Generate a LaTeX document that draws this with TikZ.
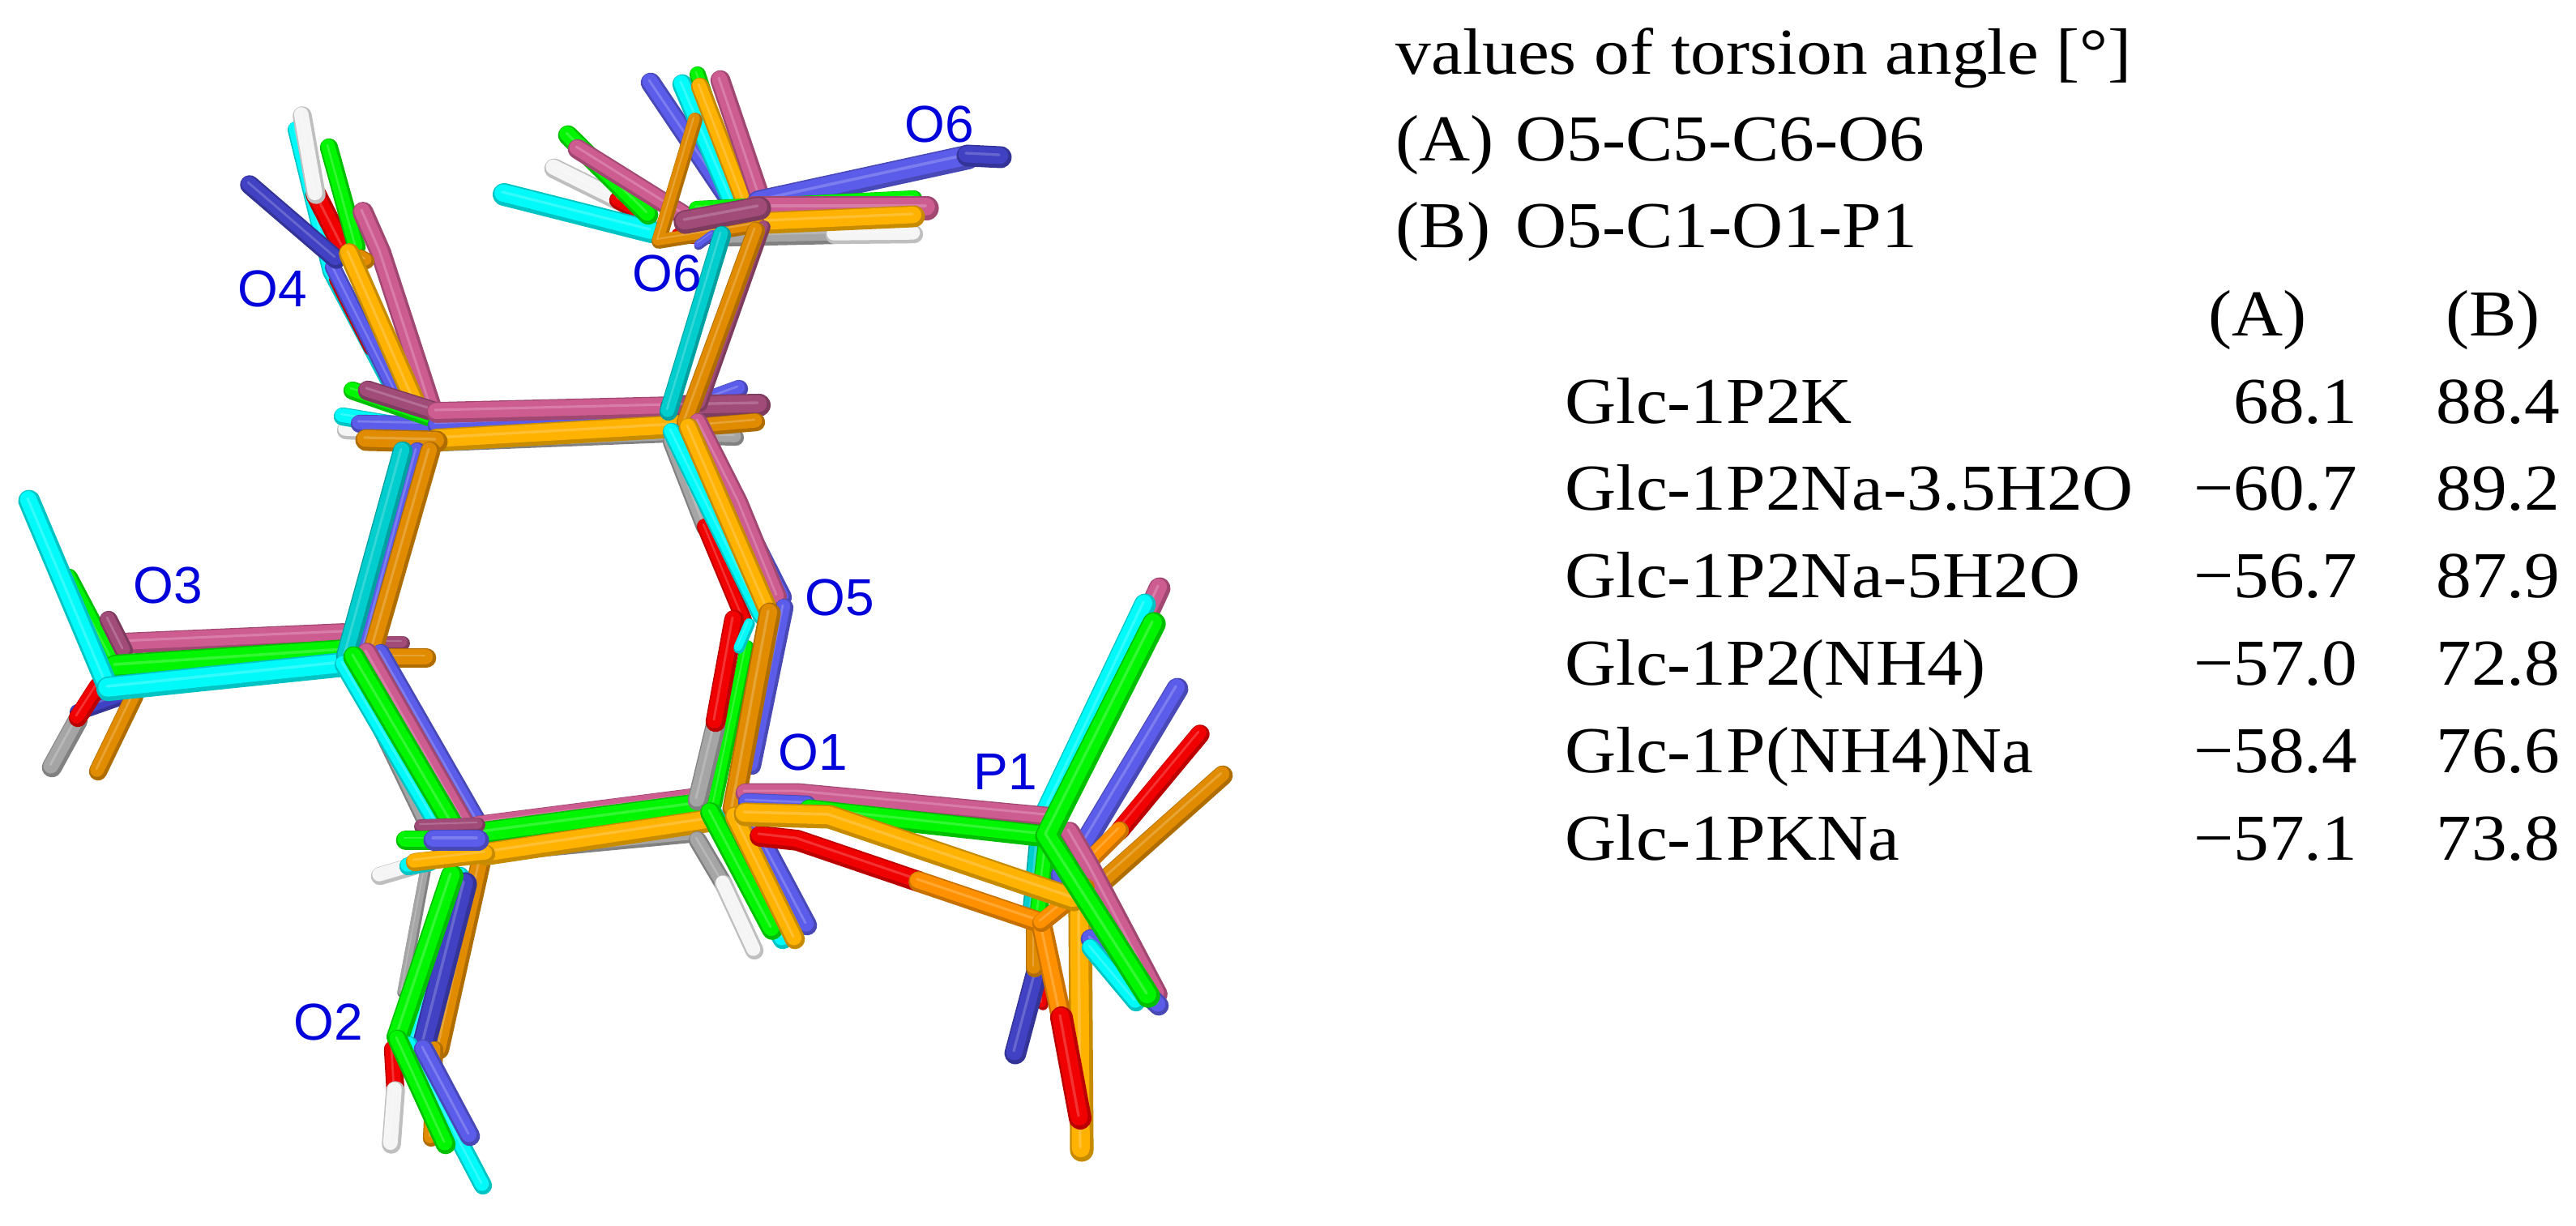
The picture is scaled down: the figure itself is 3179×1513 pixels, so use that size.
\documentclass[tikz,border=0pt]{standalone}
\usepackage{fontspec}
\setmainfont{Liberation Serif}[FakeStretch=1.08]
\newfontfamily\labfont{Liberation Sans}
\usetikzlibrary{positioning}
\definecolor{mgreen}{RGB}{0,245,0}
\definecolor{mcyan}{RGB}{0,250,250}
\definecolor{mcyand}{RGB}{0,205,205}
\definecolor{mblue}{RGB}{92,92,235}
\definecolor{mblued}{RGB}{65,65,195}
\definecolor{mpink}{RGB}{205,92,145}
\definecolor{mpinkd}{RGB}{160,75,120}
\definecolor{myellow}{RGB}{255,178,0}
\definecolor{morange}{RGB}{255,145,0}
\definecolor{mbrown}{RGB}{225,140,0}
\definecolor{mred}{RGB}{240,0,0}
\definecolor{mgray}{RGB}{165,165,165}
\definecolor{mwhite}{RGB}{245,245,245}
\def\sw{1.12*.23cm}
\tikzset{
  wd/.code={\def\sw{1.12*#1}},
  stick/.style={draw=#1!78!black, line width=\sw, line cap=round, line join=round,
    postaction={draw=#1, line width=.76*\sw, transform canvas={shift={(-.012cm,.018cm)}}},
    postaction={draw=#1!80!white, line width=.12*\sw, transform canvas={shift={(-.02cm,.03cm)}}}}
}
\begin{document}
\begin{tikzpicture}[x=.01cm,y=-.01cm]
        \tikzstyle{gr}=[stick=mgreen]
        \tikzstyle{cy}=[stick=mcyan]
        \tikzstyle{cd}=[stick=mcyand]
        \tikzstyle{bl}=[stick=mblue]
        \tikzstyle{bd}=[stick=mblued]
        \tikzstyle{pk}=[stick=mpink]
        \tikzstyle{pd}=[stick=mpinkd]
        \tikzstyle{ye}=[stick=myellow]
        \tikzstyle{or}=[stick=morange]
        \tikzstyle{br}=[stick=mbrown]
        \tikzstyle{re}=[stick=mred]
        \tikzstyle{gy}=[stick=mgray]
        \tikzstyle{wh}=[stick=mwhite]
        \tikzstyle{atomlab}=[font=\labfont\fontsize{18.2}{20}\selectfont, text=blue!86!black, inner sep=0pt]
        \tikzstyle{headline}=[font=\fontsize{23}{26}\selectfont, anchor=base west, inner sep=0pt]
        \tikzstyle{rowlab}=[font=\fontsize{23}{26}\selectfont, text width=7.5cm, align=left, text height=.8cm, text depth=.27cm, inner sep=0pt]
        \tikzstyle{colA}=[font=\fontsize{23}{26}\selectfont, text width=2.27cm, align=right, text height=.8cm, text depth=.27cm, inner sep=0pt]
        \tikzstyle{colB}=[font=\fontsize{23}{26}\selectfont, text width=2.5cm, align=right, text height=.8cm, text depth=.27cm, inner sep=0pt]

        \useasboundingbox (0,0) rectangle (3179,1513);

        \draw[cy, wd=.18cm] (365,160) -- (408,335) -- (490,490);
        \draw[gy, wd=.12cm] (465,430) -- (531,514);
        \draw[re, wd=.16cm] (415,345) -- (458,430);
        \draw[re] (390,240) -- (423,305);
        \draw[wh, wd=.21cm] (373,143) -- (390,240);
        \draw[gr, wd=.2cm] (406,182) -- (440,305);
        \draw[pk] (448,262) -- (470,312) -- (533,505);
        \draw[bl, wd=.18cm] (411,330) -- (489,485);
        \draw[bd, wd=.21cm] (308,228) -- (415,320);
        \draw[br, wd=.18cm] (445,318) -- (452,322);
        \draw[ye] (431,313) -- (518,510);

        \draw[wh, wd=.2cm] (427,531) -- (520,535);
        \draw[cy, wd=.2cm] (423,514) -- (520,530);
        \draw[bl, wd=.2cm] (444,523) -- (539,525);
        \draw[gr, wd=.2cm] (435,482) -- (530,515);
        \draw[pd, wd=.22cm] (454,482) -- (539,509);
        \draw[bl, wd=.2cm] (912,480) -- (830,510);
        \draw[gy, wd=.18cm] (908,540) -- (830,538);
        \draw[gr, wd=.2cm] (539,522) -- (829,510);
        \draw[bl, wd=.2cm] (539,525) -- (830,513);
        \draw[pk] (539,509) -- (829,502);
        \draw[pd, wd=.25cm] (829,502) -- (937,500);
        \draw[br, wd=.2cm] (933,521) -- (850,528);
        \draw[gy, wd=.08cm] (535,553) -- (840,541);
        \draw[ye, wd=.25cm] (539,543) -- (837,526);
        \draw[br, wd=.24cm] (452,543) -- (539,545);

        \draw[wh, wd=.22cm] (684,208) -- (763,247);
        \draw[re, wd=.2cm] (763,247) -- (800,268);
        \draw[cy, wd=.25cm] (622,240) -- (804,286);
        \draw[gr, wd=.22cm] (701,167) -- (800,265);
        \draw[pk, wd=.22cm] (713,184) -- (846,267);
        \draw[bl, wd=.22cm] (803,102) -- (904,252);
        \draw[cy, wd=.22cm] (842,104) -- (905,252);
        \draw[gr, wd=.18cm] (861,92) -- (880,150);
        \draw[ye, wd=.2cm] (864,107) -- (920,252);
        \draw[pk, wd=.22cm] (889,99) -- (941,252);
        \draw[bl, wd=.27cm] (937,250) -- (1194,194);
        \draw[bd, wd=.24cm] (1194,192) -- (1235,194);
        \draw[gr, wd=.18cm] (860,258) -- (1128,245);
        \draw[gy, wd=.2cm] (895,293) -- (1030,290);
        \draw[wh, wd=.2cm] (1030,290) -- (1128,289);
        \draw[pk, wd=.26cm] (930,257) -- (1144,257);
        \draw[ye, wd=.24cm] (925,276) -- (1128,267);
        \draw[re, wd=.18cm] (838,291) -- (891,291);
        \draw[br, wd=.16cm] (858,148) -- (813,298) -- (937,278);
        \draw[bl, wd=.1cm] (862,303) -- (880,290);
        \draw[pd, wd=.26cm] (846,274) -- (937,257);

        \draw[pd, wd=.14cm] (943,280) -- (865,500);
        \draw[cd, wd=.2cm] (891,290) -- (825,508);
        \draw[br, wd=.2cm] (933,285) -- (846,522);

        \draw[pd, wd=.16cm] (478,794) -- (497,794);
        \draw[br, wd=.22cm] (472,812) -- (526,812);
        \draw[bd, wd=.18cm] (153,859) -- (96,879);
        \draw[br, wd=.2cm] (166,859) -- (121,952);
        \draw[gy, wd=.22cm] (96,889) -- (64,947);
        \draw[re, wd=.2cm] (121,847) -- (96,886);
        \draw[pk] (150,794) -- (424,782);
        \draw[gr, wd=.2cm] (85,713) -- (143,823);
        \draw[pd, wd=.2cm] (134,765) -- (153,803);
        \draw[gr, wd=.27cm] (143,823) -- (427,804);
        \draw[cy, wd=.24cm] (36,618) -- (134,850);
        \draw[cy, wd=.27cm] (134,850) -- (424,820);

        \draw[gy, wd=.2cm] (497,557) -- (440,790);
        \draw[bl, wd=.2cm] (515,557) -- (450,800);
        \draw[cd, wd=.22cm] (497,557) -- (427,810);
        \draw[br, wd=.22cm] (531,557) -- (461,800);

        \draw[gy, wd=.2cm] (434,823) -- (523,1008);
        \draw[bl, wd=.2cm] (470,806) -- (590,1015);
        \draw[pk, wd=.23cm] (453,806) -- (574,1018);
        \draw[cy, wd=.2cm] (424,820) -- (542,1022);
        \draw[gr, wd=.24cm] (437,811) -- (561,1022);

        \draw[gy, wd=.12cm] (525,1075) -- (497,1225);
        \draw[br, wd=.22cm] (593,1066) -- (542,1295);
        \draw[cy, wd=.2cm] (568,1081) -- (510,1290);
        \draw[bd, wd=.26cm] (574,1091) -- (523,1290);
        \draw[gr, wd=.25cm] (558,1081) -- (491,1280);

        \draw[br, wd=.18cm] (537,1295) -- (532,1405);
        \draw[cy, wd=.2cm] (505,1290) -- (596,1463);
        \draw[re, wd=.2cm] (485,1295) -- (488,1346);
        \draw[wh, wd=.21cm] (488,1346) -- (483,1412);
        \draw[bl, wd=.22cm] (523,1295) -- (580,1402);
        \draw[gr, wd=.22cm] (491,1283) -- (550,1412);

        \draw[gy, wd=.14cm] (560,1060) -- (855,1032);
        \draw[pk, wd=.2cm] (590,1018) -- (855,984);
        \draw[gr, wd=.26cm] (587,1030) -- (867,993);
        \draw[ye, wd=.25cm] (600,1054) -- (874,1013);
        \draw[pd, wd=.16cm] (520,1020) -- (590,1018);
        \draw[gr, wd=.22cm] (501,1037) -- (590,1037);
        \draw[wh, wd=.2cm] (469,1081) -- (510,1069);
        \draw[cy, wd=.2cm] (504,1069) -- (530,1064);
        \draw[ye, wd=.2cm] (512,1064) -- (600,1054);
        \draw[bl, wd=.24cm] (536,1037) -- (590,1037);

        \draw[gy, wd=.2cm] (829,545) -- (870,650);
        \draw[re, wd=.18cm] (870,650) -- (918,765);
        \draw[bl, wd=.2cm] (862,521) -- (912,630) -- (966,737);
        \draw[pk, wd=.2cm] (862,521) -- (912,620) -- (960,737);
        \draw[cy, wd=.2cm] (829,533) -- (940,760);
        \draw[ye, wd=.22cm] (850,528) -- (949,756);

        \draw[bl, wd=.2cm] (968,750) -- (928,945);
        \draw[gr, wd=.16cm] (922,799) -- (882,993);
        \draw[gy, wd=.22cm] (883,896) -- (861,988);
        \draw[re, wd=.22cm] (906,765) -- (883,891);
        \draw[cy, wd=.12cm] (925,770) -- (912,800);
        \draw[br, wd=.24cm] (950,757) -- (905,998);

        \draw[gy, wd=.2cm] (861,1037) -- (893,1091);
        \draw[wh, wd=.2cm] (893,1091) -- (931,1173);
        \draw[bl, wd=.22cm] (922,1003) -- (996,1142);
        \draw[cy, wd=.22cm] (880,1005) -- (966,1159);
        \draw[gr, wd=.23cm] (877,1003) -- (953,1147);
        \draw[ye, wd=.22cm] (907,1008) -- (981,1159);

        \draw[cd, wd=.2cm] (1281,1040) -- (1272,1135);
        \draw[gr, wd=.2cm] (1292,1042) -- (1282,1125);
        \draw[re, wd=.12cm] (1291,1150) -- (1287,1240);
        \draw[bd, wd=.24cm] (1285,1180) -- (1253,1300);
        \draw[br, wd=.2cm] (1277,1139) -- (1277,1195);
        \draw[ye, wd=.26cm] (1333,1125) -- (1335,1419);

        \draw[pk, wd=.24cm] (1431,726) -- (1300,1010);
        \draw[cy, wd=.24cm] (1413,746) -- (1285,1015);
        \draw[bl, wd=.24cm] (1453,850) -- (1341,1037) -- (1310,1081);
        \draw[re, wd=.21cm] (1481,906) -- (1382,1025);
        \draw[or, wd=.2cm] (1382,1025) -- (1346,1061);
        \draw[br, wd=.22cm] (1509,957) -- (1354,1095);
        \draw[pk] (1320,1027) -- (1345,1070) -- (1428,1227);
        \draw[bl, wd=.22cm] (1346,1159) -- (1430,1241);
        \draw[cy, wd=.2cm] (1346,1170) -- (1402,1237);

        \draw[pk, wd=.22cm] (920,979) -- (986,979) -- (1292,1008);
        \draw[bl, wd=.2cm] (922,990) -- (996,993);
        \draw[re] (938,1032) -- (984,1037) -- (1134,1088);
        \draw[or] (1134,1088) -- (1285,1139) -- (1310,1256);
        \draw[or, wd=.2cm] (1285,1139) -- (1340,1095);
        \draw[re, wd=.25cm] (1310,1256) -- (1333,1380);
        \draw[gr, wd=.24cm] (999,1000) -- (1290,1032);
        \draw[ye, wd=.26cm] (920,1005) -- (1024,1008) -- (1325,1110);
        \draw[gr, wd=.26cm] (1424,770) -- (1292,1032) -- (1417,1229);

        \node (lab6a) [atomlab] at (1159,153) {O6};
        \node (lab6b) [atomlab] at (823,337) {O6};
        \node (lab4) [atomlab] at (336,356) {O4};
        \node (lab3) [atomlab] at (207,722) {O3};
        \node (lab5) [atomlab] at (1036,737) {O5};
        \node (lab1) [atomlab] at (1003,928) {O1};
        \node (labp) [atomlab] at (1241,952) {P1};
        \node (lab2) [atomlab] at (405,1261) {O2};

        \node (title) [headline] at (1722,92) {values of torsion angle [°]};
        \node (angA) [headline] at (1722,199) {\makebox[1.48cm][l]{(A)}O5-C5-C6-O6};
        \node (angB) [headline] at (1722,306) {\makebox[1.48cm][l]{(B)}O5-C1-O1-P1};

        \matrix (tab) [draw=none, anchor=north west, inner sep=0pt] at (1931,333) {
            \node (r0) [rowlab] {}; &
            \node (r0a) [colA] {\makebox[1.84cm][l]{(A)}}; &
            \node (r0b) [colB] {\makebox[1.41cm][l]{(B)}}; \\
            \node (r1) [rowlab] {Glc-1P2K}; &
            \node (r1a) [colA] {68.1}; &
            \node (r1b) [colB] {88.4}; \\
            \node (r2) [rowlab] {Glc-1P2Na-3.5H2O}; &
            \node (r2a) [colA] {−60.7}; &
            \node (r2b) [colB] {89.2}; \\
            \node (r3) [rowlab] {Glc-1P2Na-5H2O}; &
            \node (r3a) [colA] {−56.7}; &
            \node (r3b) [colB] {87.9}; \\
            \node (r4) [rowlab] {Glc-1P2(NH4)}; &
            \node (r4a) [colA] {−57.0}; &
            \node (r4b) [colB] {72.8}; \\
            \node (r5) [rowlab] {Glc-1P(NH4)Na}; &
            \node (r5a) [colA] {−58.4}; &
            \node (r5b) [colB] {76.6}; \\
            \node (r6) [rowlab] {Glc-1PKNa}; &
            \node (r6a) [colA] {−57.1}; &
            \node (r6b) [colB] {73.8}; \\
        };
\end{tikzpicture}
\end{document}
